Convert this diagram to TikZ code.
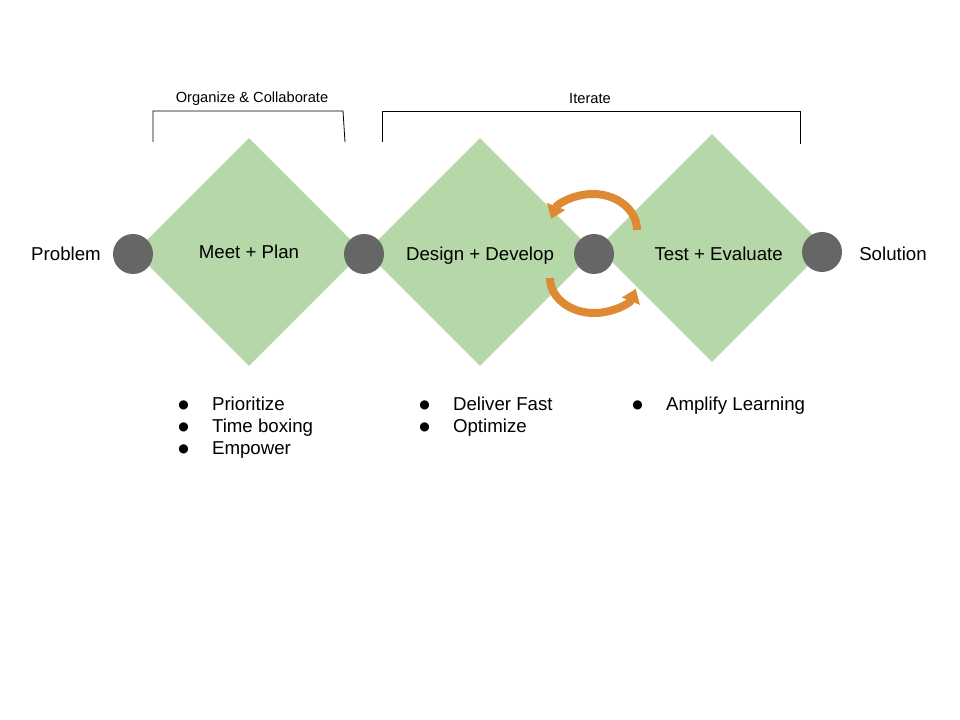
\documentclass[tikz,border=0pt]{standalone}
\usepackage{xcolor}
\usepackage{fontspec}
\setmainfont{Liberation Sans}
\newfontfamily\dotfont{DejaVu Sans}
\usepackage{tikz}
\usetikzlibrary{shapes.geometric,arrows.meta}

\definecolor{phasegreen}{HTML}{B6D7A8}
\definecolor{gategray}{HTML}{666666}
\definecolor{turnorange}{HTML}{DE8A35}

\newcommand{\bul}{\raisebox{1.2pt}{\dotfont\fontsize{9}{9}\selectfont ●}}

\begin{document}
\begin{tikzpicture}[x=.75pt,y=-.75pt,
    phase/.style={diamond,fill=phasegreen,draw=none,minimum width=171pt,minimum height=171pt,inner sep=0pt},
    gate/.style={circle,fill=gategray,draw=none,minimum size=30pt,inner sep=0pt},
    word/.style={draw=none,font=\fontsize{14}{16}\selectfont},
    small/.style={draw=none,font=\fontsize{11}{13}\selectfont},
    items/.style={draw=none,anchor=base west,inner sep=0pt,font=\fontsize{14}{16.5}\selectfont},
    turn/.style={line width=6pt,draw=turnorange,-{Triangle[width=14pt,length=10pt]}}]
             \useasboundingbox (0,0) rectangle (960,720);

             \node[phase,label={[word]center:Meet + Plan}] (meet) at (249,252) {};
             \node[phase,label={[word,yshift=-3pt]center:Design + Develop}] (design) at (480,252) {};
             \node[phase,label={[word,xshift=5pt,yshift=-4.5pt]center:Test + Evaluate}] (test) at (712,248) {};

             \node[gate] (g1) at (133,254) {};
             \node[gate] (g2) at (364,254) {};
             \node[gate] (g3) at (594,254) {};
             \node[gate] (g4) at (822,252) {};

             \node[word] (problem) at (66,254) {Problem};
             \node[word] (solution) at (893,254) {Solution};

             \draw[line width=.6pt] (153,142) -- (153,111) -- (343,111) -- (345,142);
             \node[small] (organize) at (252,99) {Organize \& Collaborate};
             \draw[line width=.6pt] (382,142) -- (382,111) -- (800,111) -- (800,144);
             \node[small] (iterate) at (590,99) {Iterate};

             \draw[turn] (637,230) arc[start angle=0,end angle=-162,x radius=44,y radius=36];
             \draw[turn] (550,278) arc[start angle=180,end angle=18,x radius=44,y radius=35];

             \node[items] (list1) at (178,410) {\begin{tabular}[t]{@{}l@{\hspace{17.5pt}}l@{}}\bul & Prioritize\\ \bul & Time boxing\\ \bul & Empower\end{tabular}};
             \node[items] (list2) at (419,410) {\begin{tabular}[t]{@{}l@{\hspace{17.5pt}}l@{}}\bul & Deliver Fast\\ \bul & Optimize\end{tabular}};
             \node[items] (list3) at (632,410) {\begin{tabular}[t]{@{}l@{\hspace{17.5pt}}l@{}}\bul & Amplify Learning\end{tabular}};
\end{tikzpicture}
\end{document}
